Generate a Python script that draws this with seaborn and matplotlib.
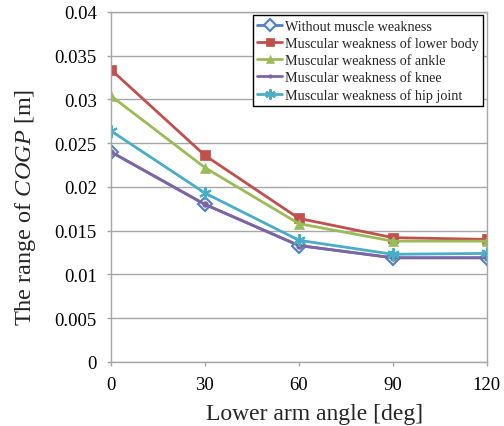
import pandas as pd
import seaborn as sns
import matplotlib.pyplot as plt
from matplotlib.lines import Line2D

sns.set_theme(style="white")
plt.rcParams['font.family'] = ['Liberation Serif', 'DejaVu Serif']
plt.rcParams['mathtext.fontset'] = 'custom'
plt.rcParams['mathtext.it'] = 'Liberation Serif:italic'
plt.rcParams['mathtext.rm'] = 'Liberation Serif'

# data
angles = [0, 30, 60, 90, 120]
without_weakness = [0.0240, 0.0180, 0.0133, 0.0119, 0.0119]
lower_body = [0.0334, 0.0236, 0.0164, 0.0142, 0.0140]
ankle = [0.0304, 0.0222, 0.0158, 0.0138, 0.0138]
knee = [0.0240, 0.0180, 0.0133, 0.0119, 0.0119]
hip_joint = [0.0264, 0.0193, 0.0139, 0.0123, 0.0124]

names = ["Without muscle weakness", "Muscular weakness of lower body",
         "Muscular weakness of ankle", "Muscular weakness of knee",
         "Muscular weakness of hip joint"]
series = [without_weakness, lower_body, ankle, knee, hip_joint]
colors = ["#4F81BD", "#C0504D", "#9BBB59", "#8064A2", "#4BACC6"]
markers = ["D", "s", "^", "o", (6, 2, 0)]
msizes = [7.5, 7.5, 7.5, 4, 9]
faces = ["#EEF0F8", "#C0504D", "#9BBB59", "#8064A2", "#4BACC6"]

df = pd.DataFrame({
    "angle": angles * len(names),
    "cogp": [v for s in series for v in s],
    "case": [n for n in names for _ in angles],
})

fig = plt.figure(figsize=(5.04, 4.27), dpi=100)
ax = fig.add_axes([0.220, 0.150, 0.746, 0.820])

handles = []
for name, col, mk, ms, fc in zip(names, colors, markers, msizes, faces):
    sub = df[df["case"] == name]
    mew = 1.5 if mk in ("D", (6, 2, 0)) else 0.5
    sns.lineplot(data=sub, x="angle", y="cogp", ax=ax, color=col,
                 linewidth=2.0, marker=mk, markersize=ms,
                 markerfacecolor=fc, markeredgecolor=col,
                 markeredgewidth=mew, legend=False)
    handles.append(Line2D([], [], color=col, linewidth=2.0, marker=mk,
                          markersize=ms - 1.5, markerfacecolor=fc,
                          markeredgecolor=col, markeredgewidth=mew,
                          label=name))

ax.set_xlim(0, 120)
ax.set_ylim(0, 0.04)
ax.set_xticks(angles)
ax.set_yticks([0, 0.005, 0.01, 0.015, 0.02, 0.025, 0.03, 0.035, 0.04])
ax.set_yticklabels(["0", "0.005", "0.01", "0.015", "0.02", "0.025",
                    "0.03", "0.035", "0.04"])
ax.yaxis.grid(True, color="#A6A6A6", linewidth=1)
ax.xaxis.grid(False)
for sp in ax.spines.values():
    sp.set_color("#A6A6A6")
    sp.set_linewidth(1)
ax.tick_params(axis="both", labelsize=13.5, colors="#A6A6A6",
               labelcolor="black", length=3, width=1, direction="out",
               bottom=True, left=True)
ax.tick_params(axis="y", pad=7)
ax.tick_params(axis="x", pad=7)
ax.set_xlabel("Lower arm angle [deg]", fontsize=17)
ax.xaxis.set_label_coords(0.543, -0.118)
ax.set_ylabel("The range of $\\mathit{COGP}$ [m]", fontsize=17.5)
ax.yaxis.set_label_coords(-0.194, 0.443)

leg = ax.legend(handles=handles, loc="upper right", fontsize=10.2,
                frameon=True, fancybox=False, edgecolor="black",
                framealpha=1, borderaxespad=0.25, handlelength=1.8,
                handletextpad=0.2, labelspacing=0.28, borderpad=0.3)
leg.get_frame().set_linewidth(1)

fig.savefig("out.png", dpi=100)
